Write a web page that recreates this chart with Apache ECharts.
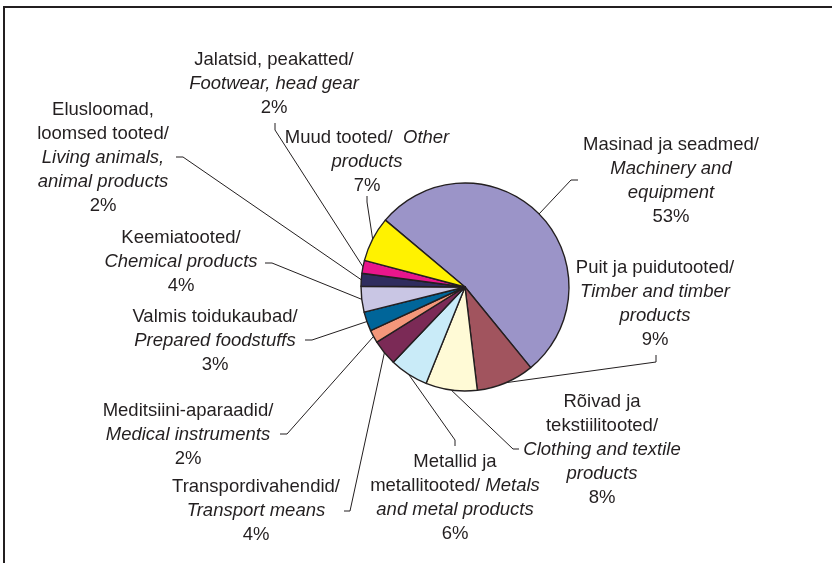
<!DOCTYPE html>
<html>
<head>
<meta charset="utf-8">
<script src="https://cdn.jsdelivr.net/npm/echarts@6/dist/echarts.min.js"></script>
<style>
    html, body { margin: 0; padding: 0; background: #fff; }
    #chart { width: 832px; height: 563px; }
</style>
</head>
<body>
<div id="chart"></div>
<script>
    // kaubagrupid (päripäeva, alates masinatest)
    var categories = [
        'Masinad ja seadmed', 'Puit ja puidutooted', 'Rõivad ja tekstiilitooted',
        'Metallid ja metallitooted', 'Transpordivahendid', 'Meditsiini-aparaadid',
        'Valmis toidukaubad', 'Keemiatooted', 'Elusloomad, loomsed tooted',
        'Jalatsid, peakatted', 'Muud tooted'
    ];
    var shares = [53, 9, 8, 6, 4, 2, 3, 4, 2, 2, 7];

    // sildi tekst ridade kaupa: n = tavakiri, i = kaldkiri
    var labelRows = [
        '{n|Masinad ja seadmed/}\n{i|Machinery and}\n{i|equipment}',
        '{n|Puit ja puidutooted/}\n{i|Timber and timber}\n{i|products}',
        '{n|Rõivad ja}\n{n|tekstiilitooted/}\n{i|Clothing and textile}\n{i|products}',
        '{n|Metallid ja}\n{n|metallitooted/ }{i|Metals}\n{i|and metal products}',
        '{n|Transpordivahendid/}\n{i|Transport means}',
        '{n|Meditsiini-aparaadid/}\n{i|Medical instruments}',
        '{n|Valmis toidukaubad/}\n{i|Prepared foodstuffs}',
        '{n|Keemiatooted/}\n{i|Chemical products}',
        '{n|Elusloomad,}\n{n|loomsed tooted/}\n{i|Living animals,}\n{i|animal products}',
        '{n|Jalatsid, peakatted/}\n{i|Footwear, head gear}',
        '{n|Muud tooted/  }{i|Other}\n{i|products}'
    ];

    var colors = ['#9b94c8', '#a1545e', '#fffad6', '#c9ebf8', '#7b2a56', '#f4977a',
        '#006599', '#c9c6e4', '#2f2d5e', '#e8168c', '#fff200'];

    // sildi asukoht (ülemise serva keskpunkt) ja juhtjoone murdepunktid
    var spots = [
        {x: 671, y: 133, mid: [571, 180], end: [578, 180]},
        {x: 655, y: 256, mid: [656, 362], end: [656, 355]},
        {x: 602, y: 390, mid: [513, 449], end: [519, 449]},
        {x: 455, y: 450, mid: [455, 440], end: [455, 446]},
        {x: 256, y: 475, mid: [350, 511], end: [344, 511]},
        {x: 188, y: 399, mid: [287, 434], end: [280, 434]},
        {x: 215, y: 305, mid: [312, 340], end: [305, 340]},
        {x: 181, y: 226, mid: [272, 263], end: [265, 263]},
        {x: 103, y: 98, mid: [183, 157], end: [176, 157]},
        {x: 274, y: 48, mid: [275, 130], end: [275, 123]},
        {x: 367, y: 126, mid: [367, 202], end: [367, 196]}
    ];

    var myChart = echarts.init(document.getElementById('chart'));
    var font = 'Liberation Sans, Arial, sans-serif';

    var option = {
        backgroundColor: '#fff',
        animation: false,
        graphic: [
            {type: 'line', shape: {x1: 3, y1: 7, x2: 832, y2: 7}, style: {stroke: '#231f20', lineWidth: 2}},
            {type: 'line', shape: {x1: 4, y1: 6, x2: 4, y2: 563}, style: {stroke: '#231f20', lineWidth: 2}}
        ],
        series: [{
            type: 'pie',
            center: [465, 287],
            radius: 104,
            startAngle: 140,
            clockwise: true,
            avoidLabelOverlap: false,
            data: categories.map(function(name, i) {
                return {name: name, value: shares[i], itemStyle: {color: colors[i]}};
            }),
            itemStyle: {borderColor: '#231f20', borderWidth: 1.4},
            label: {
                show: true,
                position: 'outside',
                color: '#231f20',
                fontFamily: font,
                fontSize: 18.5,
                lineHeight: 24,
                align: 'center',
                formatter: function(p) {
                    return labelRows[p.dataIndex] + '\n{n|' + Math.round(p.percent) + '%}';
                },
                rich: {
                    n: {fontFamily: font, fontSize: 18.5, lineHeight: 24, color: '#231f20', align: 'center'},
                    i: {fontFamily: font, fontSize: 18.5, lineHeight: 24, color: '#231f20', fontStyle: 'italic', align: 'center'}
                }
            },
            labelLine: {
                show: true,
                length: 10,
                length2: 10,
                lineStyle: {color: '#231f20', width: 1}
            },
            labelLayout: function(params) {
                var s = spots[params.dataIndex];
                var start = params.labelLinePoints ? params.labelLinePoints[0] : s.mid;
                return {
                    x: s.x,
                    y: s.y,
                    align: 'center',
                    verticalAlign: 'top',
                    labelLinePoints: [start, s.mid, s.end]
                };
            },
            emphasis: {disabled: true}
        }]
    };
    myChart.setOption(option);
</script>
</body>
</html>
